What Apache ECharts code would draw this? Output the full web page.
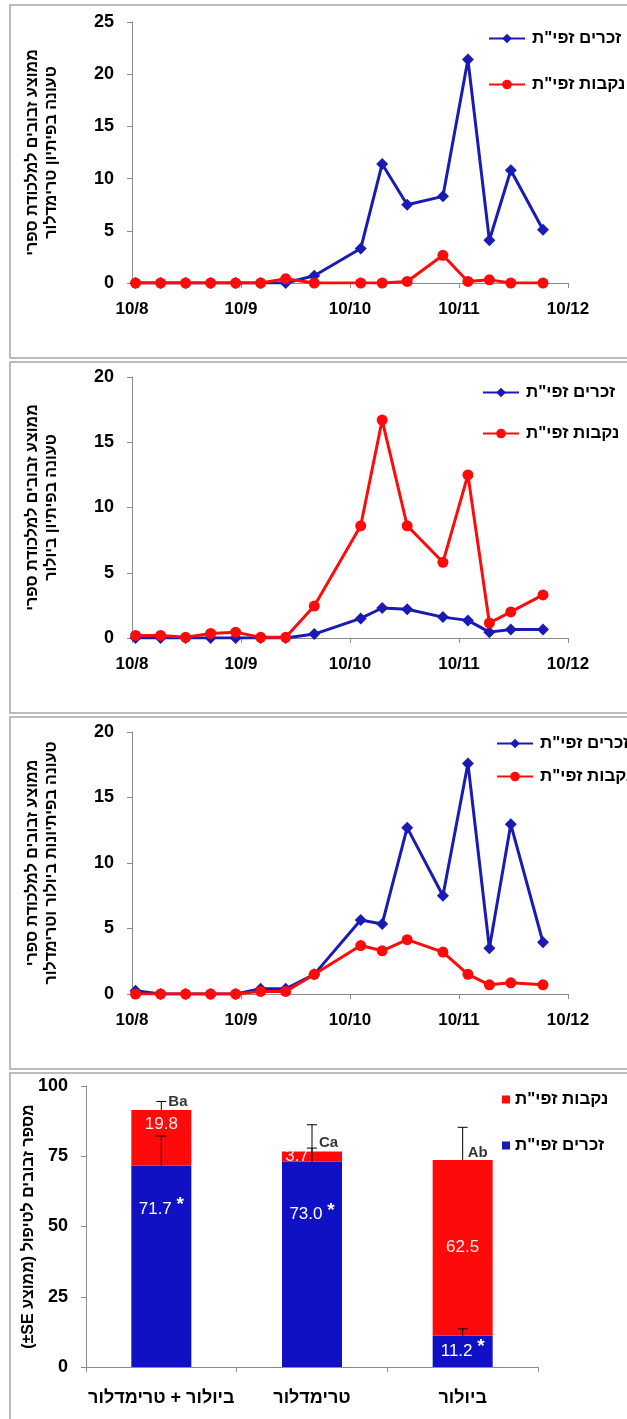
<!DOCTYPE html>
<html dir="ltr">
<head>
<meta charset="utf-8">
<script src="https://cdn.jsdelivr.net/npm/echarts@6/dist/echarts.min.js"></script>
<style>
html,body{margin:0;padding:0;background:#fff;}
#c{width:627px;height:1419px;}
</style>
</head>
<body>
<div id="c"></div>
<script>
// ---------- DATA ----------
const sampleDates = ['2012-08-11','2012-08-18','2012-08-25','2012-09-01','2012-09-08','2012-09-15','2012-09-22','2012-09-30',
  '2012-10-13','2012-10-19','2012-10-26','2012-11-05','2012-11-12','2012-11-18','2012-11-24','2012-12-03'];
const axisStart = '2012-08-10';
const monthTickLabels = ['10/8','10/9','10/10','10/11','10/12'];

// Panel 1: trimedlure trap
const males1   = [0,0,0,0,0,0,0,0.7,3.3,11.4,7.5,8.3,21.4,4.1,10.8,5.1];
const females1 = [0,0,0,0,0,0,0.4,0,0,0,0.15,2.65,0.15,0.3,0,0];
// Panel 2: biolure trap
const males2   = [0,0,0,0,0,0,0,0.3,1.5,2.3,2.2,1.6,1.35,0.45,0.65,0.65];
const females2 = [0.2,0.2,0.05,0.35,0.45,0.05,0.05,2.45,8.6,16.7,8.6,5.8,12.5,1.15,2.0,3.3];
// Panel 3: biolure + trimedlure
const males3   = [0.25,0,0,0,0,0.4,0.4,1.5,5.65,5.35,12.7,7.5,17.6,3.5,12.95,3.95];
const females3 = [0,0,0,0,0,0.2,0.2,1.5,3.7,3.3,4.15,3.2,1.5,0.7,0.85,0.7];

const maleName = 'זכרים זפי"ת';
const femaleName = 'נקבות זפי"ת';
const yTitles = [
  'ממוצע זבובים למלכודת ספרי\nטעונה בפיתיון טרימדלור',
  'ממוצע זבובים למלכודת ספרי\nטעונה בפיתיון ביולור',
  'ממוצע זבובים למלכודת ספרי\nטעונה בפיתיונות ביולור וטרימדלור',
  '\u202Bמספר זבובים לטיפול (ממוצע \u200E±SE)\u202C'
];

// Panel 4: totals per treatment
const treatments = ['ביולור + טרימדלור','טרימדלור','ביולור'];
const maleMean   = [71.7, 73.0, 11.2];
const femaleMean = [19.8, 3.7, 62.5];
const maleSE     = [10.5, 4.9, 2.4];
const femaleSE   = [3.0, 9.5, 11.6];
const letters    = ['Ba','Ca','Ab'];

// ---------- HELPERS ----------
function dayOff(s){
  const a = s.split('-').map(Number), b = axisStart.split('-').map(Number);
  return (Date.UTC(a[0],a[1]-1,a[2]) - Date.UTC(b[0],b[1]-1,b[2])) / 864e5;
}
const xs = sampleDates.map(dayOff);
const pair = vals => vals.map((v,i)=>[xs[i], v]);

const BLUE_LINE = '#1a1ab4';
const RED = '#ff0a0a';
const BLUE_BAR = '#1010c4';
const AX = '#8a8a8a';
const FONT = "'Liberation Sans', Arial, 'DejaVu Sans', sans-serif";

const grids = [
  {left:132, top:22,  width:436, height:261},
  {left:132, top:377, width:436, height:261},
  {left:132, top:732, width:436, height:262},
  {left:86,  top:1086, width:452, height:281}
];

function timeAxis(i){
  return {type:'value', gridIndex:i, min:0, max:122, interval:30.5,
    axisLine:{show:true, lineStyle:{color:AX, width:1}},
    axisTick:{show:true, length:5, lineStyle:{color:AX}},
    splitLine:{show:false},
    axisLabel:{margin:18, fontFamily:FONT, fontWeight:'bold', fontSize:17, color:'#000',
      formatter: v => monthTickLabels[Math.round(v/30.5)]}
  };
}
function valAxis(i, max, interval, title, gap){
  return {type:'value', gridIndex:i, min:0, max:max, interval:interval,
    axisLine:{show:true, lineStyle:{color:AX, width:1}},
    axisTick:{show:true, length:5, lineStyle:{color:AX}},
    splitLine:{show:false},
    axisLabel:{margin:18, fontFamily:FONT, fontWeight:'bold', fontSize:18, color:'#000'},
    name:title, nameLocation:'middle', nameRotate:90, nameGap:gap, nameMoveOverlap:false,
    nameTextStyle:{fontFamily:FONT, fontWeight:'bold', fontSize:16, color:'#000', lineHeight:19, align:'center'}
  };
}
function lineSeries(name, data, i){
  const male = name === maleName;
  return {name:name, type:'line', xAxisIndex:i, yAxisIndex:i, data:pair(data),
    symbol: male ? 'diamond' : 'circle', symbolSize: male ? 12 : 11,
    lineStyle:{width:3, color: male ? BLUE_LINE : RED},
    itemStyle:{color: male ? BLUE_LINE : RED},
    z: male ? 2 : 3, animation:false};
}
function lineLegend(i, left, top, gap){
  return {orient:'vertical', left:left, top:top, itemGap:gap, padding:0,
    itemWidth:36, itemHeight:12, data:[maleName, femaleName], selectedMode:false,
    textStyle:{fontFamily:FONT, fontWeight:'bold', fontSize:17, color:'#000', padding:[0,0,0,2]}};
}

// error bars
const errData = [];
treatments.forEach((t,i)=>{
  errData.push([i, maleMean[i], maleMean[i]+maleSE[i]]);
  const tot = maleMean[i]+femaleMean[i];
  errData.push([i, tot, tot+femaleSE[i]]);
});
const letterAnchor = [maleMean[0]+femaleMean[0]+femaleSE[0], maleMean[1]+maleSE[1], maleMean[2]+femaleMean[2]];
const letterOffsets = [[0,0],[0,-5],[-2,-7]];

const maleLabelCfg = [
  {position:'insideTop', distance:30},
  {position:'insideTop', distance:39},
  {position:'inside'}
];
const femaleLabelCfg = [
  {position:'insideTop', distance:6},
  {position:'inside', offset:[-15,0]},
  {position:'inside'}
];

const frames = [[5,358],[362,713],[717,1069],[1073,1440]];

const option = {
  animation:false,
  backgroundColor:'#fff',
  graphic: frames.map(f=>({type:'rect', shape:{x:10, y:f[0], width:640, height:f[1]-f[0]},
    style:{fill:'none', stroke:'#a6a6a6', lineWidth:1.5}, silent:true, z:-1})),
  grid: grids,
  xAxis: [timeAxis(0), timeAxis(1), timeAxis(2),
    {type:'category', gridIndex:3, data:treatments,
      axisLine:{show:true, lineStyle:{color:AX}},
      axisTick:{show:true, length:5, lineStyle:{color:AX}},
      axisLabel:{interval:0, margin:22, fontFamily:FONT, fontWeight:'bold', fontSize:18, color:'#000'}}],
  yAxis: [valAxis(0,25,5,yTitles[0],71), valAxis(1,20,5,yTitles[1],71), valAxis(2,20,5,yTitles[2],71),
    valAxis(3,100,25,yTitles[3],48)],
  legend: [
    lineLegend(0, 488, 30, 29),
    lineLegend(1, 482, 384, 24),
    lineLegend(2, 496, 735, 16),
    {orient:'vertical', left:502, top:1091, itemGap:29, padding:0, itemWidth:8, itemHeight:8, icon:'rect',
      data:[femaleName, maleName], selectedMode:false,
      textStyle:{fontFamily:FONT, fontWeight:'bold', fontSize:17, color:'#000'}}
  ],
  series: [
    lineSeries(maleName, males1, 0), lineSeries(femaleName, females1, 0),
    lineSeries(maleName, males2, 1), lineSeries(femaleName, females2, 1),
    lineSeries(maleName, males3, 2), lineSeries(femaleName, females3, 2),
    {name:maleName, type:'bar', xAxisIndex:3, yAxisIndex:3, stack:'tot', barWidth:60,
      itemStyle:{color:BLUE_BAR},
      data: maleMean.map((v,i)=>({value:v, label:maleLabelCfg[i]})),
      label:{show:true, color:'#fff', fontFamily:FONT, fontSize:17,
        formatter: p => '{v|'+p.value.toFixed(1)+'} {s|*}',
        rich:{v:{fontSize:17, color:'#fff', fontFamily:FONT}, s:{fontSize:19, fontWeight:'bold', color:'#fff', padding:[0,0,8,0]}}}},
    {name:femaleName, type:'bar', xAxisIndex:3, yAxisIndex:3, stack:'tot', barWidth:60,
      itemStyle:{color:RED},
      data: femaleMean.map((v,i)=>({value:v, label:femaleLabelCfg[i]})),
      label:{show:true, color:'#ffecec', fontFamily:FONT, fontSize:17, formatter: p => p.value.toFixed(1)}},
    {type:'custom', xAxisIndex:3, yAxisIndex:3, data:errData, z:10,
      renderItem:(params, api)=>{
        const b = api.coord([api.value(0), api.value(1)]);
        const t = api.coord([api.value(0), api.value(2)]);
        return {type:'group', children:[
          {type:'line', shape:{x1:b[0], y1:b[1], x2:t[0], y2:t[1]}, style:{stroke:'#000', lineWidth:1}},
          {type:'line', shape:{x1:t[0]-5, y1:t[1], x2:t[0]+5, y2:t[1]}, style:{stroke:'#000', lineWidth:1}}
        ]};
      }},
    {type:'scatter', xAxisIndex:3, yAxisIndex:3, symbolSize:0, z:11,
      data: letters.map((l,i)=>({value:[i, letterAnchor[i]], label:{offset:letterOffsets[i]}})),
      itemStyle:{color:'#000'},
      label:{show:true, position:'right', distance:7, color:'#000', fontFamily:FONT, fontWeight:'bold', fontSize:15,
        formatter: p => letters[p.dataIndex]}}
  ]
};
const chart = echarts.init(document.getElementById('c'), null, {renderer:'canvas'});
chart.setOption(option);
</script>
</body>
</html>
